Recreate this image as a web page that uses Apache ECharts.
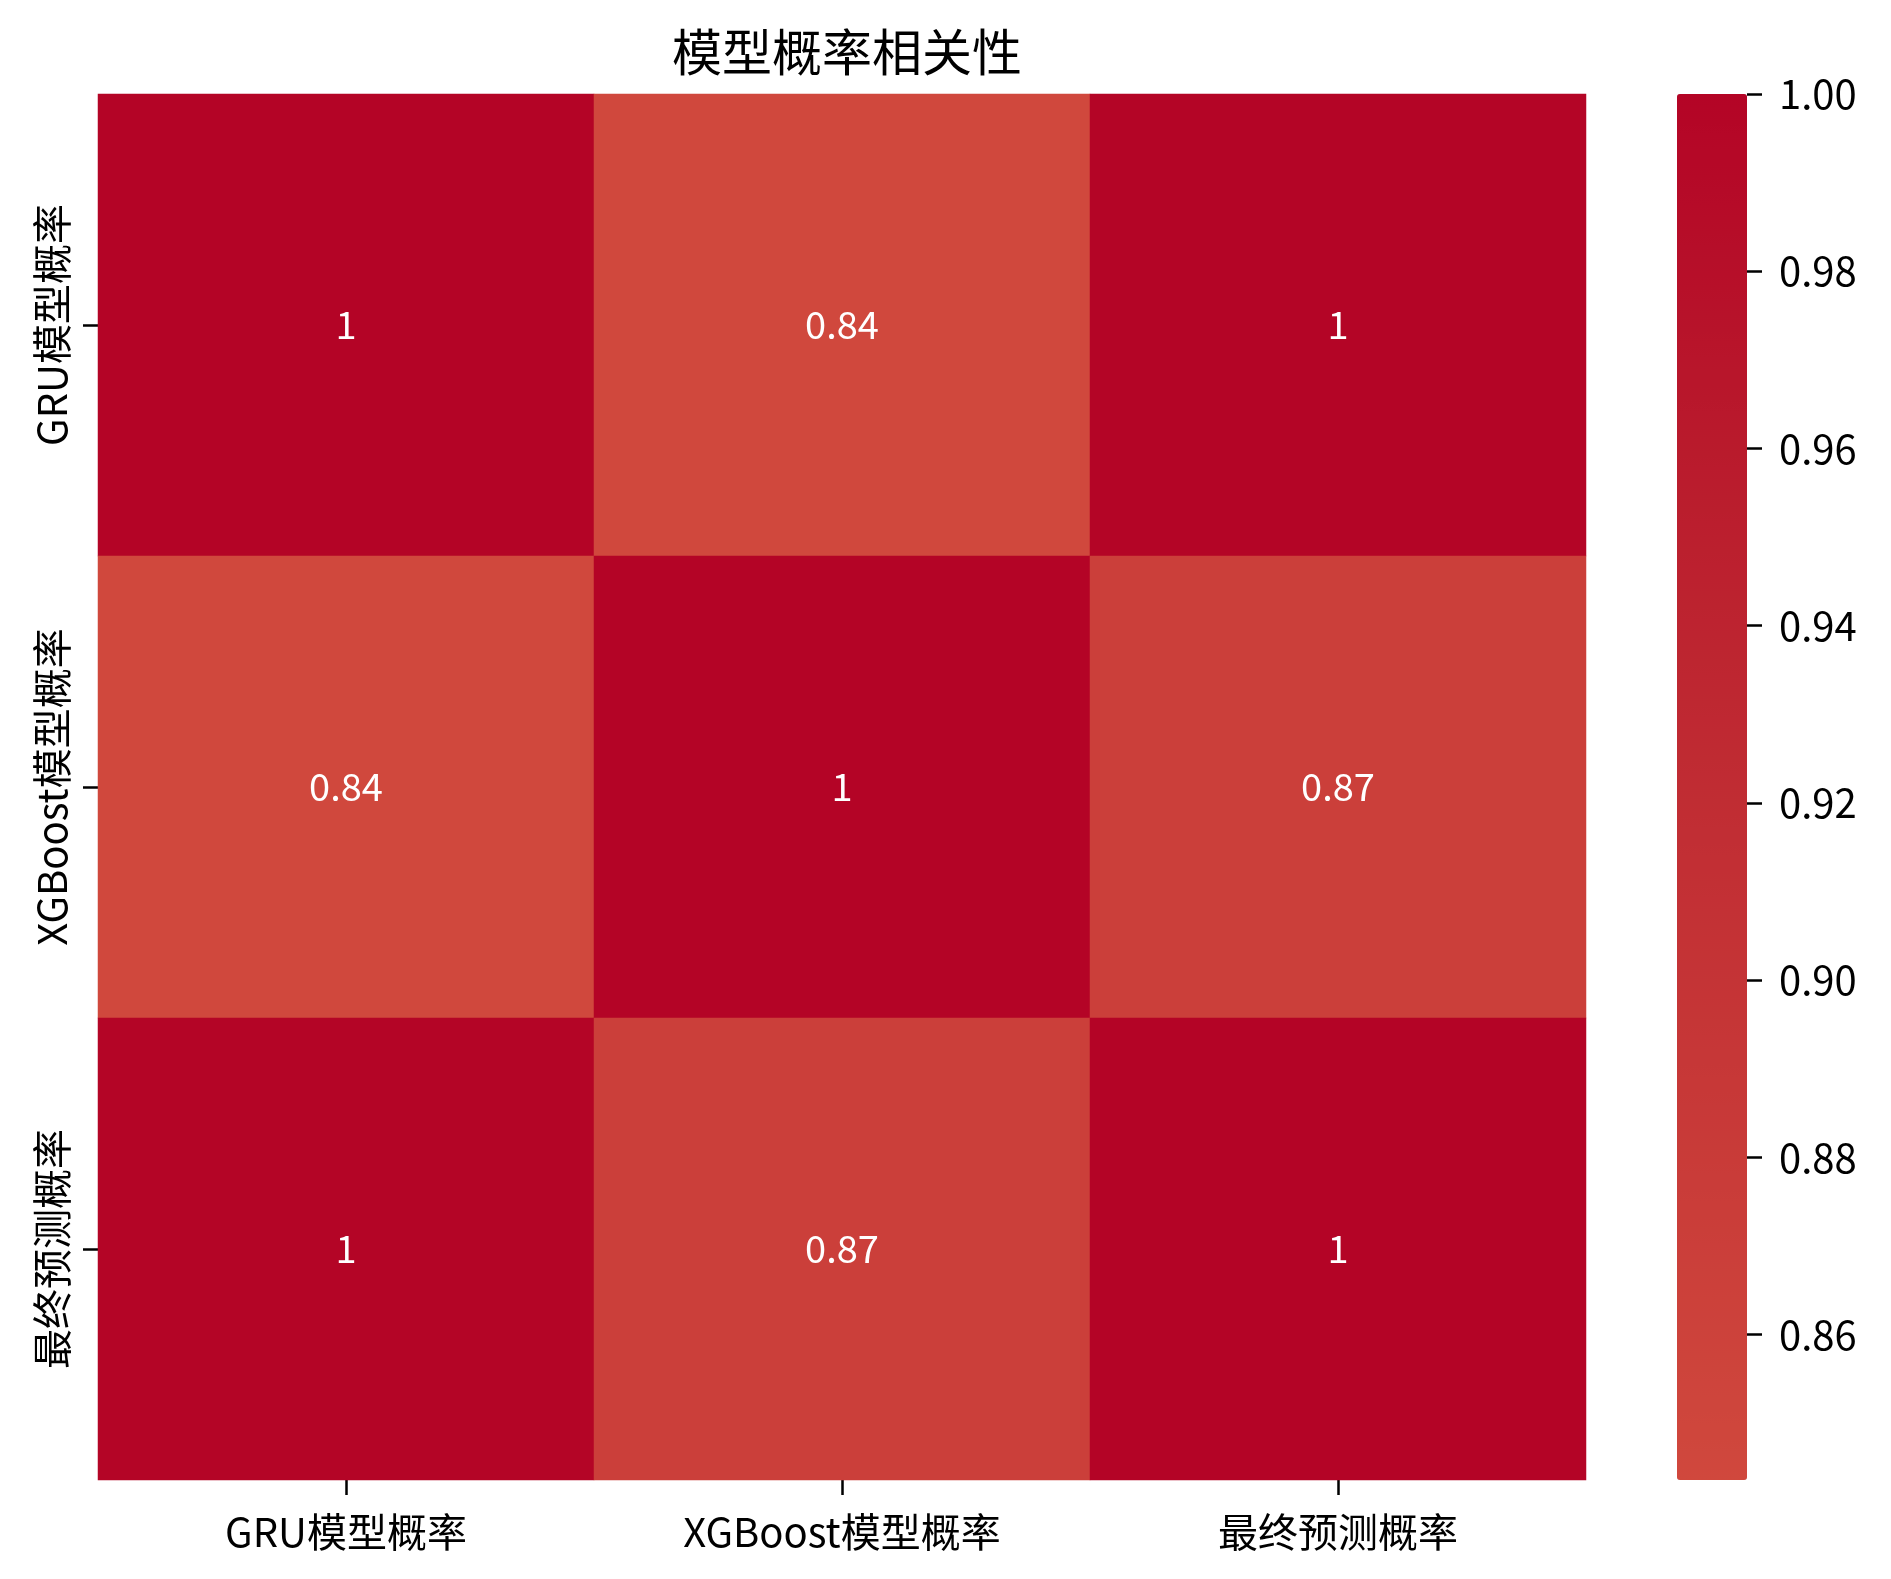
<!DOCTYPE html>
<html>
<head>
<meta charset="utf-8">
<script src="https://cdn.jsdelivr.net/npm/echarts@6/dist/echarts.min.js"></script>
<style>html,body{margin:0;padding:0;background:#fff;}#c{width:1891px;height:1579px;}</style>
</head>
<body>
<div id="c"></div>
<script>
const categories = ['GRU模型概率', 'XGBoost模型概率', '最终预测概率'];
const rowGRU = [1.0, 0.8436, 0.998];
const rowXGB = [0.8436, 1.0, 0.87];
const rowFinal = [0.998, 0.87, 1.0];
const colorbarTicks = [0.86, 0.88, 0.90, 0.92, 0.94, 0.96, 0.98, 1.00];
const cbMin = 0.8436, cbMax = 1.0;

const rows = [rowGRU, rowXGB, rowFinal];
const data = [];
rows.forEach((r, yi) => r.forEach((v, xi) => data.push([xi, yi, v])));

const FONT = '"Noto Sans CJK SC", "SimHei", sans-serif';
const chart = echarts.init(document.getElementById('c'), null, {renderer: 'canvas'});
chart.setOption({
  backgroundColor: '#fff',
  animation: false,
  title: {
    text: '模型概率相关性',
    left: 842, top: 22, textAlign: 'center',
    textStyle: {fontFamily: FONT, fontSize: 50, fontWeight: 'normal', color: '#000'}
  },
  grid: [
    {left: 98, top: 94, width: 1488, height: 1386},
    {left: 1677, top: 94, width: 70, height: 1386}
  ],
  xAxis: [
    {
      type: 'category', data: categories, gridIndex: 0, position: 'bottom',
      axisLine: {show: false},
      axisTick: {show: true, alignWithLabel: true, length: 15, lineStyle: {color: '#000', width: 2.5}},
      axisLabel: {fontFamily: FONT, fontSize: 40, color: '#000', margin: 32},
      splitLine: {show: false}
    },
    {type: 'value', gridIndex: 1, show: false, min: 0, max: 1}
  ],
  yAxis: [
    {
      type: 'category', data: categories, gridIndex: 0, inverse: true,
      axisLine: {show: false},
      axisTick: {show: true, alignWithLabel: true, length: 15, lineStyle: {color: '#000', width: 2.5}},
      axisLabel: {fontFamily: FONT, fontSize: 40, color: '#000', margin: 26, rotate: 90},
      splitLine: {show: false}
    },
    {
      type: 'value', gridIndex: 1, position: 'right', min: cbMin, max: cbMax,
      axisLine: {show: true, onZero: false, lineStyle: {color: '#000', opacity: 0, width: 0}},
      axisTick: {show: true, inside: false, length: 15, customValues: colorbarTicks, lineStyle: {color: '#000', width: 2.5, opacity: 1}},
      axisLabel: {show: true, customValues: colorbarTicks, fontFamily: FONT, fontSize: 40, color: '#000', margin: 32,
        formatter: v => v.toFixed(2)},
      splitLine: {show: false}
    }
  ],
  visualMap: {
    type: 'continuous', seriesIndex: 0, min: cbMin, max: cbMax,
    calculable: false, realtime: false,
    orient: 'vertical', left: 1677, top: 94, itemWidth: 70, itemHeight: 1386,
    padding: 0, text: null, showLabel: false, hoverLink: false,
    indicatorSize: 0, handleSize: 0,
    inRange: {color: ['#d0483d', '#c83a38', '#c02c33', '#b91a2c', '#b40426']}
  },
  series: [{
    type: 'heatmap', xAxisIndex: 0, yAxisIndex: 0, data: data,
    label: {
      show: true, color: '#fff', fontFamily: FONT, fontSize: 38,
      formatter: p => String(Number(p.value[2].toPrecision(2)))
    },
    itemStyle: {borderWidth: 0},
    emphasis: {disabled: true}
  }]
});
</script>
</body>
</html>
